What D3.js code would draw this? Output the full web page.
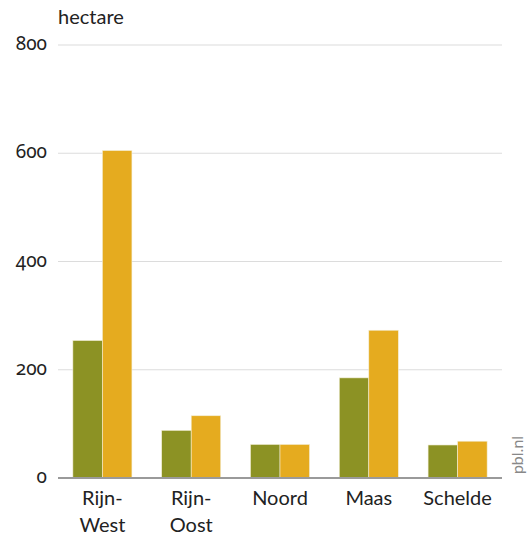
<!DOCTYPE html>
<html><head><meta charset="utf-8">
<script src="https://cdn.jsdelivr.net/npm/d3@7"></script>
<style>
body{margin:0;background:#fff;}
svg text{font-family:Lato,"Noto Sans",sans-serif;}
</style></head>
<body><svg id="c" width="528" height="537"></svg>
<script>
const categories = [["Rijn-","West"],["Rijn-","Oost"],["Noord"],["Maas"],["Schelde"]];
const seriesA = [254, 88, 62, 185, 61];
const seriesB = [605, 115, 62, 273, 68];
const yTicks = [0, 200, 400, 600, 800];
const colors = ["#8c9224", "#e5ab1f"];

const svg = d3.select("#c");
const m = {l:58, r:26, t:45, b:59};
const W = 528, H = 537;
const x = d3.scaleBand().domain(categories.map((d,i)=>i)).range([m.l, W-m.r]).paddingInner(0.335).paddingOuter(0.1675);
const xs = d3.scaleBand().domain([0,1]).range([0, x.bandwidth()]);
const y = d3.scaleLinear().domain([0,800]).range([H-m.b, m.t]);

svg.append("g").selectAll("line").data(yTicks.filter(d=>d>0)).join("line")
  .attr("x1", m.l).attr("x2", W-m.r).attr("y1", d=>y(d)).attr("y2", d=>y(d))
  .attr("stroke", "#dcdcdc").attr("stroke-width", 1.2);

svg.append("g").selectAll("text").data(yTicks).join("text")
  .attr("x", 47).attr("y", d=>y(d)+5).attr("text-anchor","end")
  .style("font-family", "'Noto Sans'")
  .style("font-feature-settings", "'onum' 1")
  .style("font-variant-numeric", "oldstyle-nums")
  .attr("font-size", 19).attr("fill", "#222").text(d=>d);

[seriesA, seriesB].forEach((s, k) => {
  svg.append("g").selectAll("rect").data(s).join("rect")
    .attr("x", (d,i)=>x(i)+xs(k)).attr("width", xs.bandwidth())
    .attr("y", d=>y(d)).attr("height", d=>y(0)-y(d))
    .attr("fill", colors[k]).attr("stroke", "#f3efd8").attr("stroke-width", 0.6);
});

svg.append("line").attr("x1", m.l).attr("x2", W-m.r).attr("y1", y(0)).attr("y2", y(0))
  .attr("stroke", "#9a9a9a").attr("stroke-width", 2);

const xl = svg.append("g").selectAll("text").data(categories).join("text")
  .attr("x", (d,i)=>x(i)+x.bandwidth()/2).attr("y", 505).attr("text-anchor","middle")
  .attr("font-size", 20).attr("fill", "#222");
xl.selectAll("tspan").data(d=>d).join("tspan")
  .attr("x", function(){return this.parentNode.getAttribute("x");})
  .attr("dy", (d,j)=>j===0?0:27).text(d=>d);

svg.append("text").attr("x", 58).attr("y", 24).attr("font-size", 20).attr("fill","#222").text("hectare");

svg.append("text").attr("transform","translate(523,455) rotate(-90)").attr("text-anchor","middle")
  .attr("font-size", 16).attr("fill","#888").text("pbl.nl");
</script></body></html>
